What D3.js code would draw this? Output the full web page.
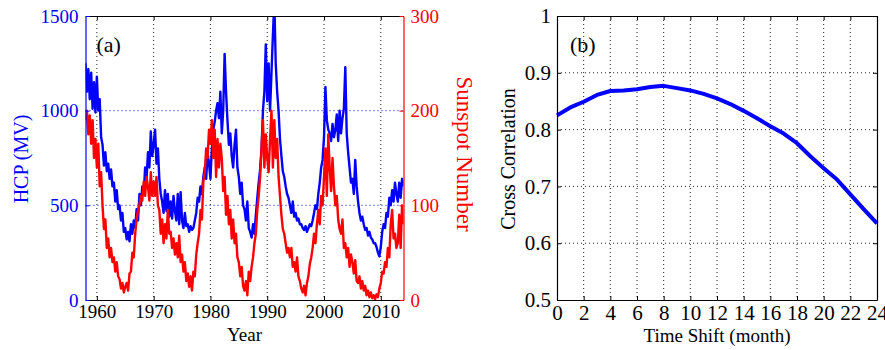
<!DOCTYPE html>
<html>
<head>
<meta charset="utf-8">
<script src="https://cdn.jsdelivr.net/npm/d3@7"></script>
<style>
  body { margin: 0; background: #fff; }
  svg { display: block; font-family: "Liberation Serif", "Times New Roman", serif; }
</style>
</head>
<body>
<script>
// panel (a): quarterly samples, 1958.0 .. 2014.0
const startYear = 1958
const stepYear = 0.25

const hcp = [
  1250, 1100, 1220, 1060,  // 1958
  1200, 1010, 1150, 990,
  1180, 1000, 1060, 860,   // 1960
  820, 710, 780, 680,
  720, 640, 690, 600,
  620, 520, 580, 480,
  500, 420, 460, 360,
  380, 320, 360, 310,
  400, 350, 420, 380,
  480, 420, 560, 500,
  600, 560, 700, 640,
  780, 700, 890, 760,
  820, 900, 720, 800,      // 1970
  640, 560, 520, 460,
  580, 470, 560, 440,
  520, 430, 550, 470,
  420, 560, 400, 570,
  420, 380, 460, 390,
  400, 360, 390, 370,
  380, 420, 460, 540,
  520, 600, 560, 650,
  700, 640, 780, 720,
  640, 800, 900, 940,      // 1980
  1000, 1040, 960, 1100,
  880, 1000, 1300, 1100,
  950, 820, 880, 760,
  700, 820, 900, 700,
  650, 560, 620, 500,
  480, 420, 520, 380,
  360, 330, 400, 350,
  450, 540, 620, 690,
  800, 1000, 1100, 1350,
  1050, 1250, 1000, 1200,  // 1990
  1400, 1580, 1250, 1100,
  1000, 850, 760, 680,
  650, 600, 560, 540,
  500, 460, 520, 440,
  460, 420, 430, 400,
  400, 380, 370, 390,
  360, 380, 400, 390,
  420, 460, 500, 480,
  560, 620, 700, 740,
  860, 1125, 950, 900,     // 2000
  880, 840, 930, 860,
  900, 980, 840, 1000,
  880, 960, 1010, 1230,
  880, 780, 700, 620,
  640, 560, 740, 600,
  520, 460, 420, 440,
  400, 370, 380, 340,
  360, 330, 320, 300,
  300, 280, 250, 230,
  280, 360, 400, 380,      // 2010
  460, 440, 540, 500,
  580, 520, 620, 560,
  520, 620, 540, 640,
  600
]

const sunspots = [
  190, 200, 175, 195,      // 1958
  165, 190, 150, 170,
  140, 165, 120, 135,      // 1960
  100, 75, 85, 55,
  65, 45, 55, 40,
  45, 30, 40, 25,
  22, 12, 18, 8,
  14, 18, 10, 28,
  30, 50, 45, 70,
  85, 95, 100, 110,
  105, 125, 110, 130,
  120, 105, 135, 110,
  125, 110, 130, 100,      // 1970
  95, 70, 85, 60,
  80, 65, 95, 70,
  72, 55, 65, 48,
  60, 45, 68, 40,
  48, 30, 40, 20,
  28, 14, 25, 10,
  30, 25, 48, 60,
  70, 95, 85, 125,
  135, 160, 150, 180,
  165, 190, 150, 180,      // 1980
  130, 170, 140, 165,
  150, 115, 130, 90,
  110, 80, 95, 65,
  85, 60, 70, 45,
  40, 25, 35, 15,
  10, 20, 5, 30,
  20, 35, 45, 60,
  70, 95, 110, 130,
  160, 190, 140, 175,
  150, 135, 170, 200,      // 1990
  140, 190, 150, 170,
  130, 110, 90, 75,
  70, 60, 50, 55,
  45, 55, 35, 40,
  30, 45, 25, 20,
  12, 8, 15, 5,
  18, 25, 38, 45,
  55, 70, 60, 80,
  95, 80, 110, 100,
  130, 160, 110, 175,      // 2000
  140, 115, 150, 120,
  100, 110, 85, 75,
  70, 85, 55, 60,
  45, 55, 35, 48,
  40, 28, 42, 20,
  18, 25, 12, 20,
  10, 15, 5, 10,
  3, 8, 2, 5,
  1, 6, 3, 12,
  18, 30, 28, 40,          // 2010
  35, 55, 45, 80,
  95, 65, 70, 55,
  60, 90, 55, 100,
  80
]

const yearTicks = [1960, 1970, 1980, 1990, 2000, 2010]
const hcpTicks = [0, 500, 1000, 1500]
const ssnTicks = [0, 100, 200, 300]

// panel (b)
const shiftMonths = [0, 1, 2, 3, 4, 5, 6, 7, 8, 9, 10, 11, 12, 13, 14, 15, 16, 17, 18, 19, 20, 21, 22, 23, 24]
const correlation = [0.825, 0.839, 0.849, 0.861, 0.868, 0.869, 0.871, 0.875, 0.877, 0.873, 0.869, 0.863, 0.855,
                     0.845, 0.833, 0.820, 0.806, 0.793, 0.776, 0.753, 0.732, 0.712, 0.686, 0.660, 0.635]
const shiftTicks = [0, 2, 4, 6, 8, 10, 12, 14, 16, 18, 20, 22, 24]
const corrTicks = [0.5, 0.6, 0.7, 0.8, 0.9, 1]

const width = 885
const height = 350
const blue = "#0000ff"
const red = "#ff0000"
const plain = d => String(d)

const svg = d3.select("body").append("svg")
    .attr("width", width)
    .attr("height", height)

// ---------- (a) ----------
const pa = {left: 85.5, right: 403.5, top: 16, bottom: 300}

const x = d3.scaleLinear().domain([1958, 2014]).range([pa.left, pa.right])
const yH = d3.scaleLinear().domain([0, 1500]).range([pa.bottom, pa.top])
const yS = d3.scaleLinear().domain([0, 300]).range([pa.bottom, pa.top])

svg.append("clipPath").attr("id", "clipA")
  .append("rect")
    .attr("x", pa.left).attr("y", pa.top)
    .attr("width", pa.right - pa.left).attr("height", pa.bottom - pa.top)

// grid
svg.append("g")
    .attr("stroke", "#222")
    .attr("stroke-dasharray", "1,3")
  .selectAll("line")
  .data(yearTicks)
  .join("line")
    .attr("x1", d => x(d)).attr("x2", d => x(d))
    .attr("y1", pa.top).attr("y2", pa.bottom)

svg.append("g")
    .attr("stroke", blue)
    .attr("stroke-dasharray", "1,3")
  .selectAll("line")
  .data(hcpTicks.slice(1, -1))
  .join("line")
    .attr("x1", pa.left).attr("x2", pa.right)
    .attr("y1", d => yH(d)).attr("y2", d => yH(d))

const lineH = d3.line()
    .x((d, i) => x(startYear + i * stepYear))
    .y(d => yH(d))
const lineS = d3.line()
    .x((d, i) => x(startYear + i * stepYear))
    .y(d => yS(d))

svg.append("path")
    .datum(hcp)
    .attr("clip-path", "url(#clipA)")
    .attr("fill", "none")
    .attr("stroke", blue)
    .attr("stroke-width", 2.4)
    .attr("stroke-linejoin", "round")
    .attr("d", lineH)

svg.append("path")
    .datum(sunspots)
    .attr("clip-path", "url(#clipA)")
    .attr("fill", "none")
    .attr("stroke", red)
    .attr("stroke-width", 2.4)
    .attr("stroke-linejoin", "round")
    .attr("d", lineS)

// axes
svg.append("g")
    .attr("transform", `translate(0,${pa.bottom})`)
    .call(d3.axisBottom(x).tickValues(yearTicks).tickSize(-4).tickSizeOuter(0).tickPadding(5).tickFormat(plain))
    .call(g => styleAxis(g, "#000", 19))

svg.append("g")
    .attr("transform", `translate(0,${pa.top})`)
    .call(d3.axisTop(x).tickValues(yearTicks).tickSize(-4).tickSizeOuter(0).tickFormat(""))
    .call(g => styleAxis(g, "#000", 19))

svg.append("g")
    .attr("transform", `translate(${pa.left},0)`)
    .call(d3.axisLeft(yH).tickValues(hcpTicks).tickSize(-4).tickSizeOuter(0).tickPadding(7).tickFormat(plain))
    .call(g => styleAxis(g, blue, 19))

svg.append("g")
    .attr("transform", `translate(${pa.right},0)`)
    .call(d3.axisRight(yS).tickValues(ssnTicks).tickSize(-4).tickSizeOuter(0).tickPadding(7).tickFormat(plain))
    .call(g => styleAxis(g, red, 19))

svg.append("text")
    .attr("x", 96.5).attr("y", 52)
    .attr("font-size", 22)
    .text("(a)")

svg.append("text")
    .attr("transform", "translate(28,159) rotate(-90)")
    .attr("text-anchor", "middle")
    .attr("font-size", 20)
    .attr("fill", blue)
    .text("HCP (MV)")

svg.append("text")
    .attr("transform", "translate(457,154) rotate(90)")
    .attr("text-anchor", "middle")
    .attr("font-size", 23)
    .attr("fill", red)
    .text("Sunspot Number")

svg.append("text")
    .attr("x", (pa.left + pa.right) / 2).attr("y", 341)
    .attr("text-anchor", "middle")
    .attr("font-size", 19)
    .text("Year")

// ---------- (b) ----------
const pb = {left: 557, right: 877, top: 16, bottom: 300}

const xb = d3.scaleLinear().domain([0, 24]).range([pb.left, pb.right])
const yb = d3.scaleLinear().domain([0.5, 1]).range([pb.bottom, pb.top])

const gridB = svg.append("g")
    .attr("stroke", "#222")
    .attr("stroke-dasharray", "1,3")

gridB.selectAll("line.v")
  .data(shiftTicks.slice(1, -1))
  .join("line")
    .attr("class", "v")
    .attr("x1", d => xb(d)).attr("x2", d => xb(d))
    .attr("y1", pb.top).attr("y2", pb.bottom)

gridB.selectAll("line.h")
  .data(corrTicks.slice(1, -1))
  .join("line")
    .attr("class", "h")
    .attr("x1", pb.left).attr("x2", pb.right)
    .attr("y1", d => yb(d)).attr("y2", d => yb(d))

svg.append("path")
    .datum(correlation)
    .attr("fill", "none")
    .attr("stroke", blue)
    .attr("stroke-width", 4)
    .attr("stroke-linejoin", "round")
    .attr("d", d3.line()
        .x((d, i) => xb(shiftMonths[i]))
        .y(d => yb(d)))

svg.append("g")
    .attr("transform", `translate(0,${pb.bottom})`)
    .call(d3.axisBottom(xb).tickValues(shiftTicks).tickSize(-4).tickSizeOuter(0).tickPadding(5).tickFormat(plain))
    .call(g => styleAxis(g, "#000", 21))

svg.append("g")
    .attr("transform", `translate(0,${pb.top})`)
    .call(d3.axisTop(xb).tickValues(shiftTicks).tickSize(-4).tickSizeOuter(0).tickFormat(""))
    .call(g => styleAxis(g, "#000", 21))

svg.append("g")
    .attr("transform", `translate(${pb.left},0)`)
    .call(d3.axisLeft(yb).tickValues(corrTicks).tickSize(-4).tickSizeOuter(0).tickPadding(6).tickFormat(plain))
    .call(g => styleAxis(g, "#000", 21))

svg.append("g")
    .attr("transform", `translate(${pb.right},0)`)
    .call(d3.axisRight(yb).tickValues(corrTicks).tickSize(-4).tickSizeOuter(0).tickFormat(""))
    .call(g => styleAxis(g, "#000", 21))

svg.append("text")
    .attr("x", 570).attr("y", 52)
    .attr("font-size", 22)
    .text("(b)")

svg.append("text")
    .attr("transform", "translate(515,159) rotate(-90)")
    .attr("text-anchor", "middle")
    .attr("font-size", 20)
    .text("Cross Correlation")

svg.append("text")
    .attr("x", (pb.left + pb.right) / 2).attr("y", 342)
    .attr("text-anchor", "middle")
    .attr("font-size", 19)
    .text("Time Shift (month)")

function styleAxis(g, color, size) {
  g.attr("font-family", null)
   .attr("font-size", size)
  g.select(".domain").attr("stroke", color).attr("stroke-width", 1.2)
  g.selectAll(".tick line").attr("stroke", color)
  g.selectAll(".tick text").attr("fill", color)
}
</script>
</body>
</html>
